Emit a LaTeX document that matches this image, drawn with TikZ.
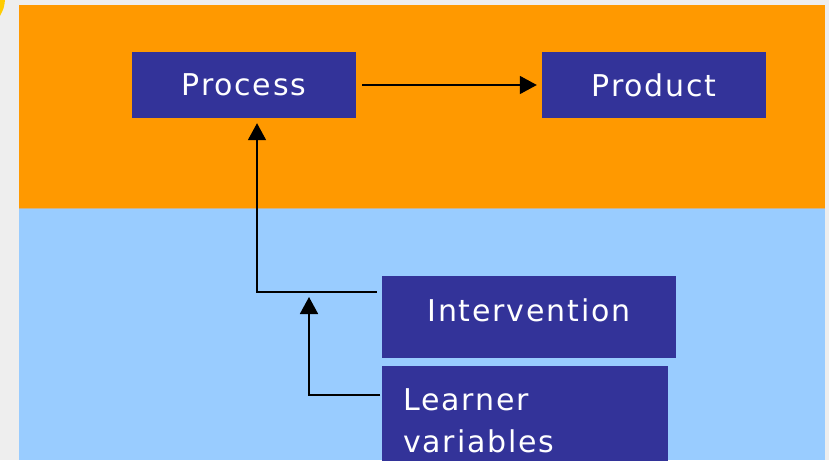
\documentclass[tikz,border=0pt]{standalone}
\usepackage{fontspec}
\setmainfont{DejaVu Sans}[LetterSpace=6]
\usetikzlibrary{arrows.meta}
\definecolor{pagegrey}{HTML}{EEEEEE}
\definecolor{bandorange}{HTML}{FF9900}
\definecolor{bandblue}{HTML}{99CCFF}
\definecolor{boxblue}{HTML}{333399}
\definecolor{cornergold}{HTML}{FFCC00}
\definecolor{seam}{RGB}{205,180,140}
\begin{document}
\begin{tikzpicture}[x=1pt, y=-1pt,
  box/.style={fill=boxblue, text=white, minimum height=66pt, inner sep=0pt,
    font=\fontsize{30}{42}\selectfont},
  conn/.style={line width=1.8pt, -{Triangle[width=18pt, length=17pt]}, shorten >=5pt}]
% Background bands
\useasboundingbox (0,0) rectangle (829,460);
\fill[pagegrey] (0,0) rectangle (829,460);
\fill[cornergold] (0,0) -- (5,0) .. controls (4,8) .. (0,16) -- cycle;
\fill[bandorange] (19,5) rectangle (825,208);
\fill[bandblue] (19,208) rectangle (825,460);
\draw[seam, line width=1pt] (19,208) -- (825,208);

% Boxes
\node[box, minimum width=224pt] (process) at (244,85) {Process};
\node[box, minimum width=224pt] (product) at (654,85) {Product};
\node[box, minimum width=294pt, minimum height=82pt, text depth=14pt] (interv) at (529,317) {Intervention};
\node[box, anchor=north west, text width=244pt, inner xsep=21pt, inner ysep=22pt, align=left] (learner) at (382,366) {Learner\\variables};

% Arrows
\coordinate (join) at (309,292);
\draw[conn, shorten <=6pt] (process.east) -- (product.west);
\draw[conn] ([xshift=-5pt, yshift=25pt]interv.west) -| ([xshift=13pt]process.south);
\draw[conn] ([xshift=-2pt, yshift=-29pt]learner.north west) -| (join);
\end{tikzpicture}
\end{document}
